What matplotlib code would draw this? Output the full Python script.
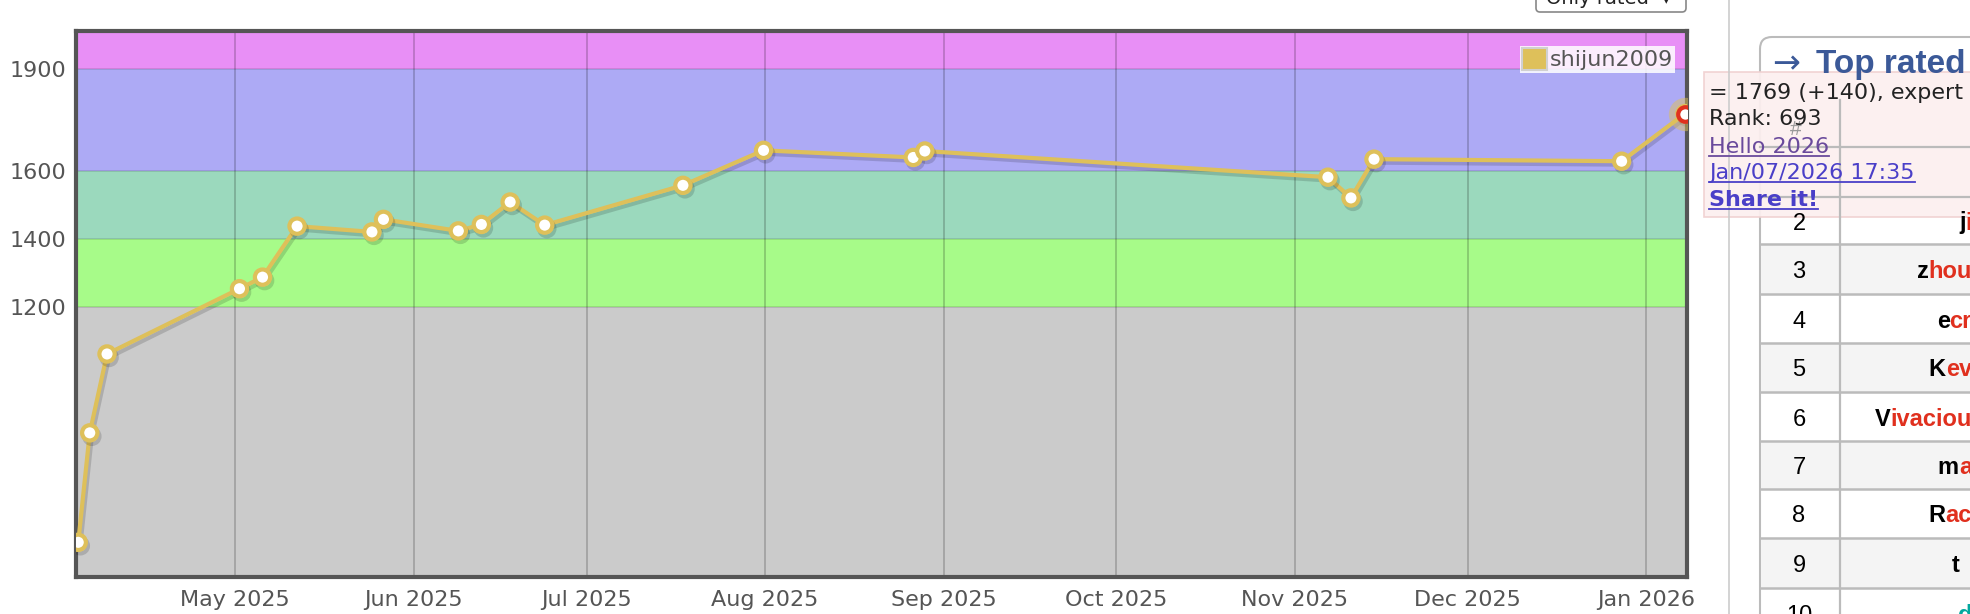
import datetime as dt

import matplotlib
matplotlib.use("Agg")
import matplotlib.pyplot as plt
import matplotlib.dates as mdates
import matplotlib.patheffects as pe
from matplotlib.patches import Rectangle, FancyBboxPatch, Patch

# rating history (all rounds start 17:35)
dates = ["2025-04-03", "2025-04-05", "2025-04-08", "2025-05-01", "2025-05-05",
         "2025-05-11", "2025-05-24", "2025-05-26", "2025-06-08", "2025-06-12",
         "2025-06-17", "2025-06-23", "2025-07-17", "2025-07-31", "2025-08-26",
         "2025-08-28", "2025-11-06", "2025-11-10", "2025-11-14", "2025-12-27",
         "2026-01-07"]
ratings = [508, 830, 1062, 1254, 1288, 1438, 1421, 1458, 1424, 1443, 1509, 1441,
           1558, 1661, 1640, 1659, 1582, 1521, 1635, 1629, 1769]
handle = "shijun2009"

band_edges = [0, 1200, 1400, 1600, 1900, 2100]
band_colors = ["#cbcbcb", "#a7fb89", "#9bd9bd", "#adaaf5", "#e88ff6"]
ytick_values = [1200, 1400, 1600, 1900]

tooltip_lines = ["= 1769 (+140), expert", "Rank: 693", "Hello 2026",
                 "Jan/07/2026 17:35", "Share it!"]

# sidebar "Top rated" table, only the visible bits
rank_numbers = ["2", "3", "4", "5", "6", "7", "8", "9", "10"]
name_heads = ["j", "z", "e", "K", "V", "m", "R", "t", "d"]
name_tails = ["i", "hou", "cr", "ev", "ivaciou", "a", "ac", "", ""]

gold = "#dec05a"
W, H = 1970, 614

x = [dt.datetime.strptime(d + " 17:35", "%Y-%m-%d %H:%M") for d in dates]

fig = plt.figure(figsize=(W / 100, H / 100), dpi=100)
fig.patch.set_facecolor("white")

ax = fig.add_axes([75.7 / W, (H - 577) / H, (1687 - 75.7) / W, (577 - 31) / H])

# rank colour bands
for lo, hi, c in zip(band_edges[:-1], band_edges[1:], band_colors):
    ax.axhspan(lo, hi, color=c, zorder=0, lw=0)
for v in ytick_values:
    ax.axhline(v, color="black", alpha=0.13, lw=1.2, zorder=0.6)

ax.plot(x, ratings, color=gold, lw=3, marker="o", ms=11, mfc="white", mec=gold,
        mew=3, zorder=3,
        path_effects=[pe.SimpleLineShadow(offset=(1.5, -2.5), shadow_color="black", alpha=0.15),
                      pe.Normal()])
# hovered point
ax.plot(x[-1], ratings[-1], "o", ms=24, color=gold, alpha=0.5, mew=0, zorder=4)
ax.plot(x[-1], ratings[-1], "o", ms=10.5, mfc="white", mec="#e0301e", mew=3, zorder=5)

ax.set_xlim(dt.datetime(2025, 4, 3, 7), dt.datetime(2026, 1, 8, 2))
ax.set_ylim(406, 2012)
ax.set_yticks(ytick_values)
ax.xaxis.set_major_locator(mdates.MonthLocator(bymonthday=1))
ax.xaxis.set_major_formatter(mdates.DateFormatter("%b %Y"))
ax.grid(axis="x", color="black", alpha=0.2, lw=1.3)
ax.set_axisbelow(True)
ax.tick_params(length=0, labelsize=16, labelcolor="#555555")
ax.tick_params(axis="x", pad=9)
ax.tick_params(axis="y", pad=7)
for s in ax.spines.values():
    s.set_color("#555555")
    s.set_linewidth(3)

ax.legend(handles=[Patch(facecolor=gold, edgecolor="#d0d0d0", lw=1.5)], labels=[handle],
          loc="upper right", bbox_to_anchor=(0.9928, 0.9725), fontsize=16,
          framealpha=0.85, facecolor="white", edgecolor="none", fancybox=False,
          borderpad=0.1, handlelength=1.1, handleheight=1.1, handletextpad=0.15,
          borderaxespad=0, labelcolor="#555555")

# overlay in page pixels for the surrounding web page bits
ov = fig.add_axes([0, 0, 1, 1])
ov.set_xlim(0, W)
ov.set_ylim(H, 0)
ov.axis("off")
ov.patch.set_alpha(0)

# "Only rated" dropdown, cut at the top
ov.add_patch(FancyBboxPatch((1536, -20), 150, 32, boxstyle="round,pad=0,rounding_size=4",
                            fc="white", ec="#888888", lw=1.2))
ov.text(1546, 4, "Only rated  \u25be", fontsize=14, color="#222222", va="baseline")

# sidebar
ov.plot([1729, 1729], [0, H], color="#cccccc", lw=1.2)
ov.add_patch(FancyBboxPatch((1760, 37), 260, 620, boxstyle="round,pad=0,rounding_size=12",
                            fc="white", ec="#bbbbbb", lw=1.5))
ov.text(1772, 73, "\u2192", fontsize=24, color="#3b5998", va="baseline")
ov.text(1816, 73, "Top rated", fontsize=24, color="#3b5998", weight="bold",
        va="baseline", family="Liberation Sans")
ov.text(1796, 135, "#", fontsize=15, color="#999999", ha="center", va="baseline",
        family="Liberation Sans")
for yy in [147, 197]:
    ov.plot([1760, W], [yy, yy], color="#bbbbbb", lw=1.6)

row_tops = [197, 244, 294, 343, 392, 441, 489, 538, 588]
for i, (num, head, tail) in enumerate(zip(rank_numbers, name_heads, name_tails)):
    top = row_tops[i]
    bottom = row_tops[i + 1] if i + 1 < len(row_tops) else top + 49
    if i % 2 == 1:
        ov.add_patch(Rectangle((1761, top), W - 1761, bottom - top, fc="#f4f4f4", ec="none"))
    ov.plot([1760, W], [bottom, bottom], color="#bbbbbb", lw=1.8)
    cy = (top + bottom) / 2
    ov.text(1799, cy + 9, num, fontsize=17, color="black", ha="center", va="baseline",
            family="Liberation Sans")
    if num == "10":
        ov.text(1958, cy + 9, head, fontsize=17, color="#03a89e", weight="bold",
                va="baseline", family="Liberation Sans")
        continue
    t = ov.text(W + 2, cy + 9, tail, fontsize=17, color="#e0301e", weight="bold",
                ha="right", va="baseline", family="Liberation Sans")
    fig.canvas.draw()
    bb = t.get_window_extent()
    ov.text(bb.x0 if tail else W - 10, cy + 9, head, fontsize=17, color="black",
            weight="bold", ha="right", va="baseline", family="Liberation Sans")
ov.plot([1840, 1840], [100, H], color="#bbbbbb", lw=1.6)

# tooltip over the sidebar
ov.add_patch(Rectangle((1704, 72), 280, 145, fc="#fcefef", ec="#f0d0d0", lw=1.2, alpha=0.93))
tip_colors = ["#222222", "#222222", "#6a4a9c", "#4a3fc8", "#4a3fc8"]
tip_base = [99, 125, 153, 179, 206]
for k, (txt, c, yb) in enumerate(zip(tooltip_lines, tip_colors, tip_base)):
    t = ov.text(1709, yb, txt, fontsize=16, color=c, va="baseline",
                weight="bold" if k == 4 else "normal")
    if k >= 2:
        fig.canvas.draw()
        bb = t.get_window_extent()
        ov.plot([bb.x0, bb.x1], [yb + 3, yb + 3], color=c, lw=1.3)

fig.savefig("out.png", dpi=100)
